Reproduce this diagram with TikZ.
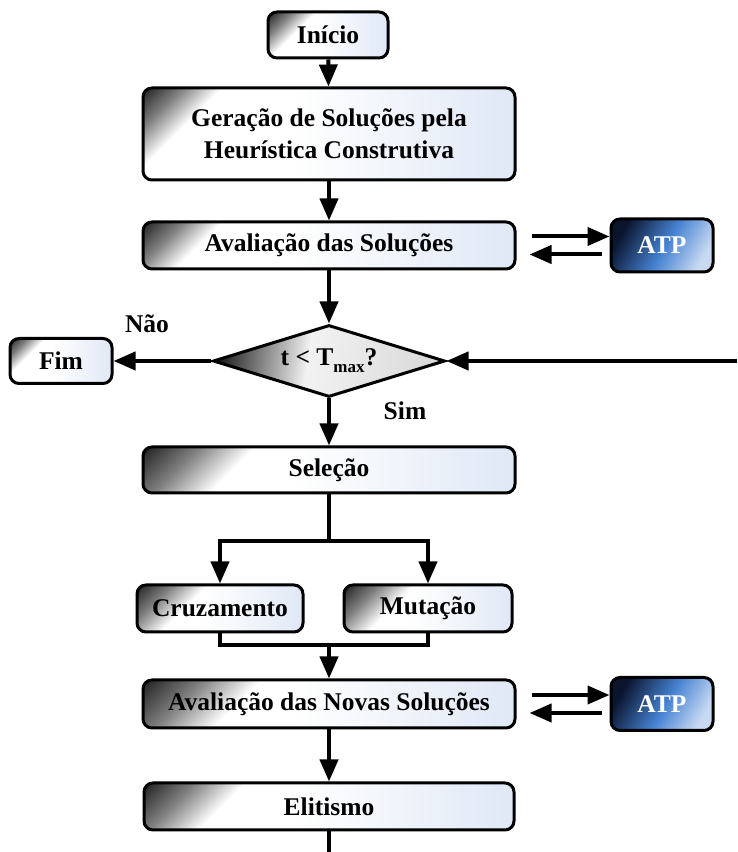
\documentclass[tikz,border=0pt]{standalone}
\usepackage{fontspec}
\setmainfont{Liberation Serif}
\usetikzlibrary{arrows.meta,shapes.geometric,calc}

\definecolor{boxblue}{RGB}{224,232,246}
\definecolor{atpdark}{RGB}{10,20,45}
\definecolor{atpmid}{RGB}{70,130,210}
\definecolor{atplight}{RGB}{200,218,242}

\pgfdeclarehorizontalshading{stagebase}{100bp}{color(0bp)=(white); color(45bp)=(white); color(75bp)=(boxblue); color(100bp)=(boxblue)}
\pgfdeclarehorizontalshading{stagecorner}{100bp}{color(0bp)=(black!88); color(50bp)=(black!88); color(57bp)=(black!50); color(64bp)=(white); color(100bp)=(white)}
\pgfdeclarehorizontalshading{atpfill}{100bp}{color(0bp)=(atpdark); color(25bp)=(atpdark); color(52bp)=(atpmid); color(75bp)=(atplight); color(100bp)=(atplight)}
\pgfdeclarehorizontalshading{decfill}{100bp}{color(0bp)=(black!85); color(25bp)=(black!85); color(45bp)=(black!5); color(75bp)=(black!15); color(100bp)=(black!15)}

\tikzset{
  shadelen/.store in=\shadelen, shadelen=60pt,
  stage/.style={draw, line width=3pt, rounded corners=9pt, minimum width=372pt, minimum height=47pt,
    inner sep=0pt, align=center, font=\fontsize{25.5}{32}\selectfont\bfseries,
    path picture={
      \shade[shading=stagebase] (path picture bounding box.south west) rectangle (path picture bounding box.north east);
      \begin{scope}
        \clip ($(path picture bounding box.north west)+({0.707*\shadelen+250pt},{-0.707*\shadelen+250pt})$)
          -- ($(path picture bounding box.north west)+({0.707*\shadelen-250pt},{-0.707*\shadelen-250pt})$)
          -- ($(path picture bounding box.north west)+(-400pt,-400pt)$) -- ($(path picture bounding box.north west)+(-400pt,400pt)$) -- cycle;
        \shade[shading=stagecorner, shading angle=-45]
          ($(path picture bounding box.north west)+({-1.786*\shadelen},{-1.786*\shadelen})$) rectangle
          ($(path picture bounding box.north west)+({1.786*\shadelen},{1.786*\shadelen})$);
      \end{scope}}},
  atp/.style={draw, line width=3pt, rounded corners=9pt, minimum width=102pt, minimum height=53pt,
    shade, shading=atpfill, shading angle=-30, text=white, font=\fontsize{25.5}{32}\selectfont\bfseries},
  decision/.style={draw, line width=3pt, diamond, aspect=3.2, minimum width=232pt, minimum height=72pt,
    inner sep=0pt, shade, shading=decfill, shading angle=-8, font=\fontsize{25.5}{32}\selectfont\bfseries},
  answer/.style={font=\fontsize{25.5}{32}\selectfont\bfseries},
  flow/.style={line width=4pt, -{Triangle[width=18pt,length=22pt]}},
  link/.style={line width=4pt}
}

\begin{document}
\begin{tikzpicture}[x=1pt, y=1pt]
    \useasboundingbox (0,0) rectangle (737,852);

    % Boxes
    \node[stage, minimum width=120pt, minimum height=46pt, shadelen=34pt] (inicio) at (328,817) {Início};
    \node[stage, minimum height=92pt, shadelen=56pt] (geracao) at (329,718) {Geração de Soluções pela\\Heurística Construtiva};
    \node[stage, shadelen=56pt] (aval) at (329,606.5) {Avaliação das Soluções};
    \node[atp] (atp1) at (662,606.5) {ATP};
    \node[decision] (dec) at (329,491) {t < T\raisebox{-7pt}{\fontsize{17}{17}\selectfont max}?};
    \node[stage, minimum width=102pt, minimum height=45pt, shadelen=25pt] (fim) at (61,491) {Fim};
    \node[stage, minimum height=46pt, shadelen=80pt] (sel) at (329,382) {Seleção};
    \node[stage, minimum width=166pt, shadelen=50pt] (cruz) at (220,243.5) {Cruzamento};
    \node[stage, minimum width=168pt, shadelen=50pt] (mut) at (428,243.5) {Mutação};
    \node[stage, minimum height=48pt, shadelen=84pt] (novas) at (329,148) {Avaliação das Novas Soluções};
    \node[atp] (atp2) at (662,148) {ATP};
    \node[stage, minimum width=370pt, shadelen=72pt] (elit) at (329,45.5) {Elitismo};

    % Answers
    \node[answer] (nao) at (147,528) {Não};
    \node[answer] (sim) at (405,441) {Sim};

    % Free ends and junctions
    \coordinate (retorno) at (737,491);
    \coordinate (split) at (329,311);
    \coordinate (merge) at (329,207);
    \coordinate (saida) at (329,0);

    % Main flow
    \draw[flow] (inicio) -- (geracao);
    \draw[flow] (geracao) -- (aval);
    \draw[flow] (aval) -- (dec);
    \draw[flow] (dec) -- (sel);
    \draw[flow] (dec) -- (fim);
    \draw[flow] (retorno) -- (dec);
    \draw[link] (sel) -- (split);
    \draw[flow] (split) -| (cruz);
    \draw[flow] (split) -| (mut);
    \draw[link] (cruz) |- (merge);
    \draw[link] (mut) |- (merge);
    \draw[flow] (merge) -- (novas);
    \draw[flow] (novas) -- (elit);
    \draw[link] (elit) -- (saida);

    % ATP exchange
    \draw[flow] ([shift={(15pt,9pt)}]aval.east) -- ([yshift=9pt]aval.east -| atp1.west);
    \draw[flow] ([shift={(-8pt,-9pt)}]atp1.west) -- ([shift={(13pt,-9pt)}]aval.east);
    \draw[flow] ([shift={(15pt,9pt)}]novas.east) -- ([yshift=9pt]novas.east -| atp2.west);
    \draw[flow] ([shift={(-8pt,-9pt)}]atp2.west) -- ([shift={(13pt,-9pt)}]novas.east);
\end{tikzpicture}
\end{document}
